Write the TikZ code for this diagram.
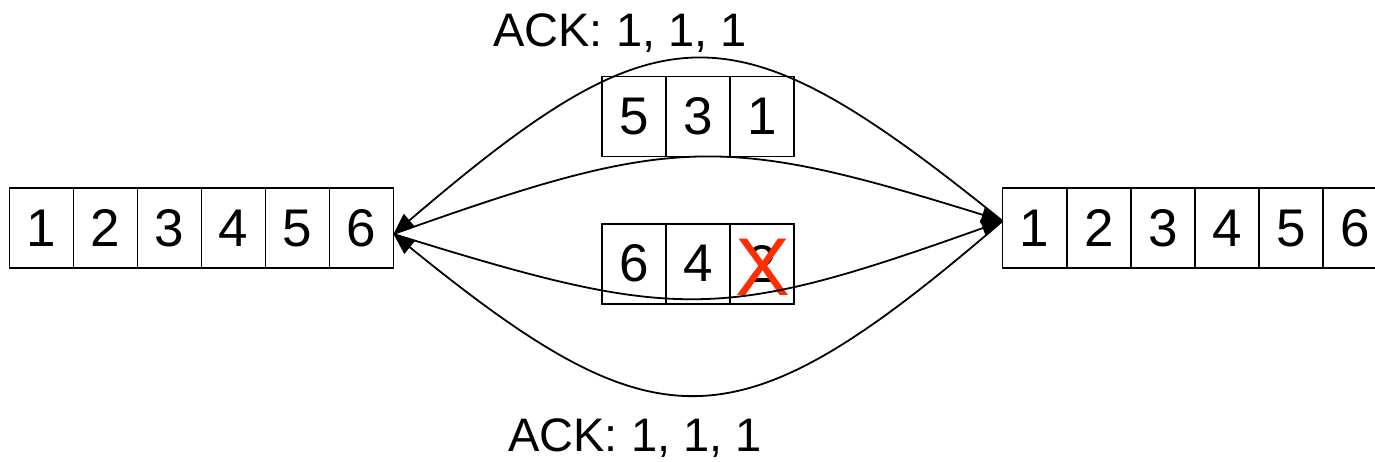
\documentclass[tikz,border=0pt]{standalone}
\usepackage{fontspec}
\setmainfont{Liberation Sans}
\usetikzlibrary{arrows.meta}
\definecolor{xred}{RGB}{255,45,0}
\begin{document}
\begin{tikzpicture}[x=0.5pt,y=-0.5pt,
  cell/.style={draw, line width=0.9pt, minimum width=32pt, minimum height=40pt, inner sep=0pt, outer sep=0pt, font=\fontsize{26.5}{26.5}\selectfont},
  acklabel/.style={anchor=base, inner sep=0pt, font=\fontsize{23.5}{23.5}\selectfont},
  wire/.style={line width=0.9pt, -{Triangle[length=10.5pt,width=8.5pt]}},
  lostmark/.style={text=xred, inner sep=0pt, font=\fontsize{41}{41}\selectfont}]
\useasboundingbox (0,0) rectangle (1375,461);
% left array
\foreach \i/\t in {1/1,2/2,3/3,4/4,5/5,6/6}{
  \node[cell] (l\i) at ({9.5+64*(\i-0.5)},228.3) {\t};
}
% right array
\foreach \i/\t in {1/1,2/2,3/3,4/4,5/5,6/6}{
  \node[cell] (r\i) at ({1002.5+64.15*(\i-0.5)},228.3) {\t};
}
% packets in flight
\node[cell] (t1) at (634,116.5) {5};
\node[cell] (t2) at (698,116.5) {3};
\node[cell] (t3) at (762,116.5) {1};
\node[cell] (b1) at (634,263.7) {6};
\node[cell] (b2) at (698,263.7) {4};
\node[cell] (b3) at (762,263.7) {2};
\node[lostmark] (x) at (763,267.5) {X};
% labels
\node[acklabel] (acktop) at (620,46.7) {ACK: 1, 1, 1};
\node[acklabel] (ackbot) at (635,451.7) {ACK: 1, 1, 1};
% end points
\coordinate (lp) at ([yshift=-2.85pt]l6.east);
\coordinate (rp) at ([yshift=3.65pt]r1.west);
% connectors
\draw[wire] (rp) .. controls +(-270,-218) and +(270,-231) .. (lp);
\draw[wire] (lp) .. controls +(280,-100) and +(-280,-87) .. (rp);
\draw[wire] (lp) .. controls +(283,88) and +(-283,101) .. (rp);
\draw[wire] (rp) .. controls +(-266,229) and +(266,216) .. (lp);
\end{tikzpicture}
\end{document}
